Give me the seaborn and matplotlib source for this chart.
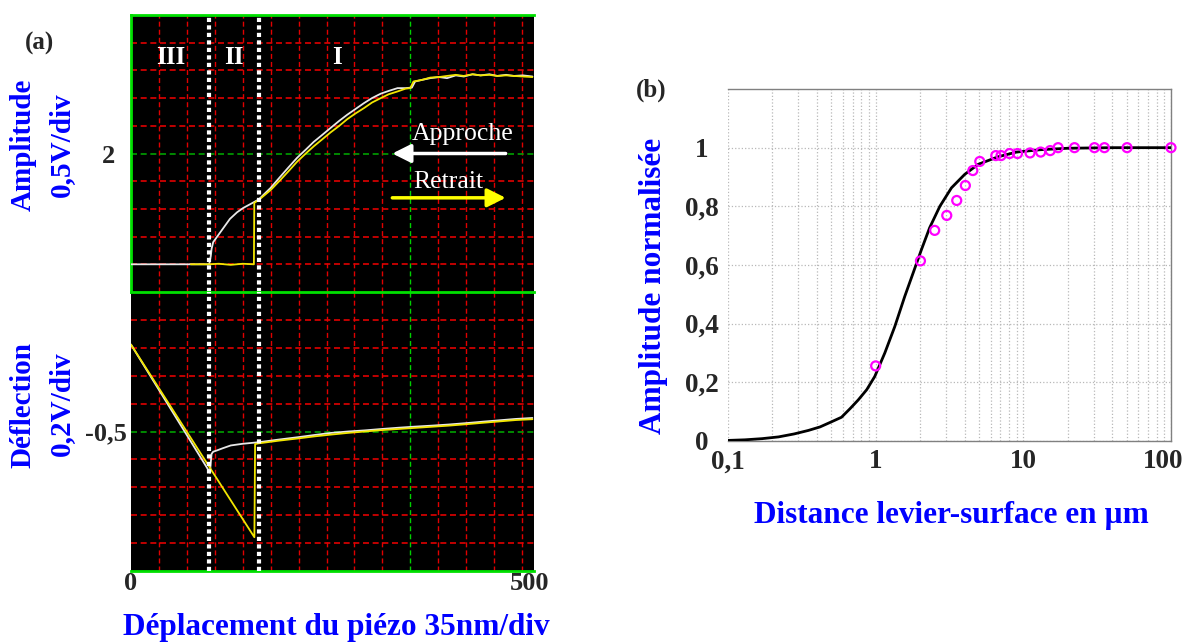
import numpy as np
import matplotlib
matplotlib.use('Agg')
import matplotlib.pyplot as plt
import matplotlib.transforms as mtransforms
import seaborn as sns

# (a) oscilloscope traces, x in nm of piezo travel
amp_app_x = [0, 98, 100, 101, 103, 107, 115, 124, 133, 141, 150, 160, 175, 187, 198, 208, 219, 229,
             240, 250, 261, 271, 281, 292, 302, 313, 323, 334, 344, 352, 356, 365, 375, 386, 396, 407,
             417, 428, 438, 449, 459, 470, 480, 491, 503]
amp_app_y = [0, 0, 0.15, 0.28, 0.40, 0.48, 0.64, 0.82, 0.94, 1.02, 1.09, 1.17, 1.38, 1.58, 1.76, 1.92,
             2.07, 2.21, 2.34, 2.46, 2.59, 2.70, 2.80, 2.91, 3.00, 3.08, 3.13, 3.18, 3.18, 3.19, 3.30,
             3.33, 3.36, 3.38, 3.36, 3.41, 3.39, 3.43, 3.41, 3.43, 3.40, 3.42, 3.40, 3.41, 3.39]
amp_ret_x = [75, 98, 110, 125, 140, 154, 154.5, 160, 175, 187, 198, 208, 219, 229, 240, 250, 261, 271,
             281, 292, 302, 313, 323, 334, 344, 350, 354, 365, 375, 386, 396, 407, 417, 428, 438, 449,
             459, 470, 480, 491, 503]
amp_ret_y = [0, 0, 0.01, -0.01, 0.01, 0.0, 1.11, 1.16, 1.34, 1.52, 1.69, 1.85, 2.0, 2.13, 2.26, 2.38,
             2.50, 2.62, 2.72, 2.82, 2.92, 3.0, 3.07, 3.12, 3.17, 3.18, 3.30, 3.33, 3.37, 3.38, 3.40,
             3.42, 3.40, 3.43, 3.41, 3.42, 3.40, 3.41, 3.40, 3.39, 3.38]
def_app_x = [0, 99, 100, 101, 103, 108, 115, 125, 140, 160, 185, 209, 230, 251, 272, 293, 314, 335,
             356, 377, 398, 420, 440, 461, 482, 503]
def_app_y = [0.123, -0.795, -0.72, -0.66, -0.645, -0.635, -0.62, -0.60, -0.588, -0.577, -0.558, -0.541,
             -0.525, -0.51, -0.50, -0.492, -0.482, -0.473, -0.465, -0.458, -0.45, -0.44, -0.43, -0.42,
             -0.41, -0.403]
def_ret_x = [0, 154.6, 155.5, 160, 185, 209, 230, 251, 272, 293, 314, 335, 356, 377, 398, 420, 440,
             461, 482, 503]
def_ret_y = [0.123, -1.258, -0.59, -0.585, -0.566, -0.55, -0.535, -0.522, -0.51, -0.50, -0.49, -0.482,
             -0.474, -0.466, -0.458, -0.448, -0.438, -0.428, -0.418, -0.412]
zone_bounds = [98, 160]
zone_names = ['III', 'II', 'I']
zone_centers = [50, 129, 258]

# (b) normalised amplitude vs distance (um)
fit_x = [0.1, 0.13, 0.17, 0.22, 0.28, 0.35, 0.42, 0.5, 0.587, 0.67, 0.762, 0.87, 0.986, 1.153, 1.347,
         1.574, 1.794, 2.04, 2.32, 2.72, 3.26, 4.01, 4.94, 6.75, 9.0, 13, 20, 40, 100]
fit_y = [0.002, 0.004, 0.008, 0.014, 0.024, 0.036, 0.048, 0.065, 0.081, 0.11, 0.14, 0.175, 0.22, 0.30,
         0.39, 0.493, 0.573, 0.652, 0.727, 0.80, 0.863, 0.909, 0.943, 0.969, 0.985, 0.993, 0.998, 1.0,
         1.0]
meas_x = [1.0, 2.01, 2.51, 3.03, 3.54, 4.05, 4.55, 5.07, 6.51, 7.06, 8.07, 9.13, 11.1, 13.1, 15.2,
          17.2, 22.2, 30.3, 35.4, 50.4, 100]
meas_y = [0.256, 0.614, 0.718, 0.769, 0.82, 0.871, 0.922, 0.953, 0.973, 0.973, 0.98, 0.98, 0.982,
          0.985, 0.99, 1.0, 1.0, 1.0, 1.0, 1.0, 1.0]

sns.set_style('white')
plt.rcParams['font.family'] = ['Liberation Serif', 'DejaVu Serif']
plt.rcParams['font.weight'] = 'bold'

W, H = 1184, 644
fig = plt.figure(figsize=(W / 100, H / 100), dpi=100)
BLUE = '#0000ff'
RED = '#e00000'
GREEN = '#00e000'
DGREEN = '#00a000'
YEL = '#f2e600'
dash = (0, (3.6, 2.2))

ax1 = fig.add_axes([131 / W, 1 - 292 / H, 403 / W, 277 / H])
ax2 = fig.add_axes([131 / W, 1 - 571 / H, 403 / W, 279 / H])
ax1.set_ylim(-0.5, 4.5)
ax2.set_ylim(-1.5, 0.5)
for ax, ygrid, ymid in [(ax1, np.arange(0, 4.4, 0.5), 2.0), (ax2, np.arange(-1.3, 0.4, 0.2), -0.5)]:
    ax.set_facecolor('black')
    ax.set_xlim(0, 505)
    for gx in np.arange(35, 505, 35):
        c = '#00d000' if abs(gx - 350) < 1 else RED
        ax.axvline(gx, color=c, lw=1, ls=dash, zorder=1)
    for gy in ygrid:
        c = DGREEN if abs(gy - ymid) < 1e-6 else RED
        ax.axhline(gy, color=c, lw=1.2, ls=dash, zorder=1)
    for b in zone_bounds:
        ax.axvline(b, color='white', lw=3, ls=(0, (1, 0.8)), zorder=4)
    ax.tick_params(length=0, labelsize=19)
    for s in ax.spines.values():
        s.set_color(GREEN)
        s.set_linewidth(2)
    ax.spines['right'].set_visible(False)

ax1.spines['bottom'].set_visible(False)
ax2.spines['left'].set_visible(False)

sns.lineplot(x=amp_app_x, y=amp_app_y, ax=ax1, color='#e8e8e8', lw=1.3, sort=False, estimator=None, zorder=3)
sns.lineplot(x=amp_ret_x, y=amp_ret_y, ax=ax1, color=YEL, lw=1.3, sort=False, estimator=None, zorder=3)
sns.lineplot(x=def_app_x, y=def_app_y, ax=ax2, color='#e8e8e8', lw=1.3, sort=False, estimator=None, zorder=3)
sns.lineplot(x=def_ret_x, y=def_ret_y, ax=ax2, color=YEL, lw=1.3, sort=False, estimator=None, zorder=3)

ax1.set_xticks([])
ax1.set_yticks([2.0])
ax1.set_yticklabels(['2'])
ax2.set_yticks([-0.5])
ax2.set_yticklabels(['-0,5'])
ax2.set_xticks([0, 500])
ax2.set_xticklabels(['0', '500'])
ax1.tick_params(axis='y', pad=16)
ax2.tick_params(axis='y', pad=18)
ax2.tick_params(axis='x', pad=1)
for lab in ax1.get_yticklabels() + ax2.get_yticklabels():
    lab.set_ha('center')
ax1.set_xlabel('')
ax2.set_xlabel('')

for name, xc in zip(zone_names, zone_centers):
    ax1.text(xc, 3.73, name, color='white', fontsize=18, ha='center', va='center')

ax1.annotate('', xy=(324, 2.0), xytext=(473, 2.0),
             arrowprops=dict(arrowstyle='-|>', color='white', lw=2.5, mutation_scale=28), zorder=6)
ax1.annotate('', xy=(473, 1.2), xytext=(324, 1.2),
             arrowprops=dict(arrowstyle='-|>', color='#ffff00', lw=2.5, mutation_scale=28), zorder=6)
ax1.text(415, 2.36, 'Approche', color='white', fontsize=18.5, fontweight='normal', ha='center', va='center')
ax1.text(398, 1.49, 'Retrait', color='white', fontsize=18.5, fontweight='normal', ha='center', va='center')

fig.text(40 / W, 1 - 43 / H, '(a)', fontsize=18, ha='center', va='center')
fig.text(23 / W, 1 - 145 / H, 'Amplitude', rotation=90, color=BLUE, fontsize=21, ha='center', va='center')
fig.text(61 / W, 1 - 145 / H, '0,5V/div', rotation=90, color=BLUE, fontsize=21, ha='center', va='center')
fig.text(23 / W, 1 - 405 / H, 'Déflection', rotation=90, color=BLUE, fontsize=21, ha='center', va='center')
fig.text(61 / W, 1 - 404 / H, '0,2V/div', rotation=90, color=BLUE, fontsize=21, ha='center', va='center')
fig.text(336 / W, 1 - 628 / H, 'Déplacement du piézo 35nm/div', color=BLUE, fontsize=22.5,
         ha='center', va='center')

# (b)
ax3 = fig.add_axes([728 / W, 1 - 441 / H, 443 / W, 352 / H])
ax3.set_xscale('log')
ax3.set_xlim(0.1, 100)
ax3.set_ylim(0, 1.2)
ax3.grid(True, which='both', axis='x', color='#b8b8b8', ls=':', lw=0.9)
ax3.grid(True, which='major', axis='y', color='#b8b8b8', ls=':', lw=0.9)
sns.lineplot(x=fit_x, y=fit_y, ax=ax3, color='black', lw=2, sort=False, estimator=None, zorder=3)
sns.scatterplot(x=meas_x, y=meas_y, ax=ax3, marker='o', s=42, facecolor='none', edgecolor='#ff00ff',
                linewidth=1.6, zorder=4, clip_on=False)
ax3.set_xticks([0.1, 1, 10, 100])
ax3.set_xticklabels(['0,1', '1', '10', '100'])
yt = [0, 0.2, 0.4, 0.6, 0.8, 1.0]
ax3.set_yticks(yt)
ax3.set_yticklabels(['0', '0,2', '0,4', '0,6', '0,8', '1'])
for lab in ax3.get_yticklabels():
    lab.set_ha('center')
ax3.tick_params(axis='both', which='both', direction='in', length=4, color='#808080', labelsize=19.5)
ax3.tick_params(axis='x', which='minor', length=0)
ax3.tick_params(axis='y', pad=19)
ax3.tick_params(axis='x', pad=6)
last = ax3.get_xticklabels()[-1]
last.set_transform(last.get_transform() + mtransforms.ScaledTranslation(-0.08, 0, fig.dpi_scale_trans))
for s in ax3.spines.values():
    s.set_color('#808080')
    s.set_linewidth(1)
ax3.spines['left'].set_visible(False)

fig.text(651 / W, 1 - 90 / H, '(b)', fontsize=18, ha='center', va='center')
fig.text(653 / W, 1 - 286 / H, 'Amplitude normalisée', rotation=90, color=BLUE, fontsize=22.5,
         ha='center', va='center')
fig.text(951 / W, 1 - 515 / H, 'Distance levier-surface en µm', color=BLUE, fontsize=22.5,
         ha='center', va='center')

fig.savefig('out.png', dpi=100)
